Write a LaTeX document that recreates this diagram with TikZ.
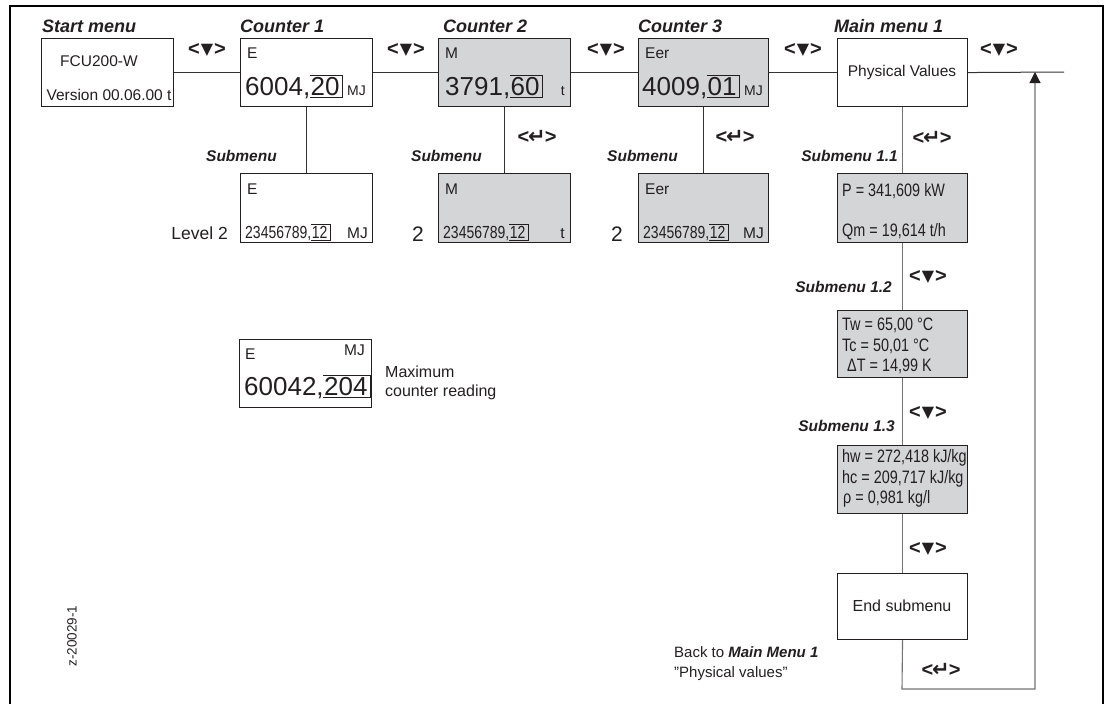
\documentclass[tikz,border=0pt]{standalone}
\usepackage{fontspec}
\setmainfont{Liberation Sans}
\newfontfamily\dejavu{DejaVu Sans}
\newfontfamily\narrowfont[FakeStretch=0.8]{Liberation Sans}
\usetikzlibrary{arrows.meta,calc}
\definecolor{lcd}{RGB}{212,213,215}
\definecolor{ink}{RGB}{35,31,32}
\newcommand\fs[1]{\fontsize{#1}{#1}\selectfont}
\newcommand\navdn{{\fs{20}\bfseries<}\kern1pt\raisebox{0.5pt}{\dejavu\fs{16}▼}\kern1pt{\fs{20}\bfseries>}}
\newcommand\navret{{\fs{20}\bfseries<}\kern-1pt\raisebox{0.5pt}{\dejavu\bfseries\fs{21}↵}\kern-1pt{\fs{20}\bfseries>}}
\newcommand\curbox[1]{\draw[curs] ($(#1.north west)+(-0.5,-1.5)$) -- ($(#1.north east)+(2.5,-1.5)$) -- ($(#1.south east)+(2.5,2)$) -- ($(#1.south west)+(-0.5,2)$);}
\begin{document}
\begin{tikzpicture}[x=1pt,y=-1pt,
  every node/.style={inner sep=0pt, text=ink},
  box/.style={draw=ink, line width=1.1pt, anchor=north west, minimum width=132pt, minimum height=68pt},
  lcdbox/.style={box, fill=lcd},
  title/.style={font=\fs{18}\bfseries\itshape, anchor=base west},
  lbl/.style={font=\fs{15.5}\bfseries\itshape, anchor=base east},
  txt/.style={font=\fs{15.5}, anchor=base west},
  big/.style={font=\fs{26}, anchor=base west},
  unit/.style={font=\fs{14}, anchor=base east},
  nar/.style={font=\narrowfont\fs{18}, anchor=base west},
  subnum/.style={font=\narrowfont\fs{17.5}, anchor=base west},
  nav/.style={anchor=center},
  curs/.style={draw=ink, line width=1.1pt},
  conn/.style={draw=black!80, line width=1pt},
  gconn/.style={draw=black!55, line width=1.1pt},
]
\path[use as bounding box] (0,0) rectangle (1109,704);
% frame
\draw[line width=1.3pt, black] (10,712) -- (10,6) -- (1103,6) -- (1103,712);

% titles
\node[title] (tStart) at (42,32) {Start menu};
\node[title] (tC1) at (240,32) {Counter 1};
\node[title] (tC2) at (443,32) {Counter 2};
\node[title] (tC3) at (638,32) {Counter 3};
\node[title] (tMM) at (834,32) {Main menu 1};

% top row boxes
\node[box] (start) at (41,38) {};
\node[box] (c1) at (240,38) {};
\node[lcdbox] (c2) at (438,38) {};
\node[lcdbox, minimum width=130pt] (c3) at (638,38) {};
\node[box, minimum width=130pt] (mm) at (837,38) {};

% start box text
\node[font=\fs{15.5}, anchor=base] (fcu) at (99,66) {FCU200-W};
\node[font=\fs{15.5}, anchor=base] (ver) at (109,100) {Version 00.06.00 t};

% counter 1
\node[txt] (c1E) at (247,58) {E};
\node[big] (c1num) at (245,95) {6004,};
\node[big] (c1dec) at (c1num.base east) {20};
\curbox{c1dec}
\node[unit] (c1u) at (366,95) {MJ};
% counter 2
\node[txt] (c2E) at (445,58) {M};
\node[big] (c2num) at (445,95) {3791,};
\node[big] (c2dec) at (c2num.base east) {60};
\curbox{c2dec}
\node[unit] (c2u) at (565,95) {t};
% counter 3
\node[txt] (c3E) at (645,58) {Eer};
\node[big] (c3num) at (642,95) {4009,};
\node[big] (c3dec) at (c3num.base east) {01};
\curbox{c3dec}
\node[unit] (c3u) at (763,95) {MJ};
% main menu
\node[font=\fs{15.5}] (pv) at (902,72) {Physical Values};

% connectors top row
\coordinate (rt) at (1064,72);
\draw[conn] (start) -- (c1);
\draw[conn] (c1) -- (c2);
\draw[conn] (c2) -- (c3);
\draw[conn] (c3) -- (mm);
\draw[conn] (mm.east) -- (rt);

% nav labels top row
\node[nav] (n1) at (207,50) {\navdn};
\node[nav] (n2) at (406,50) {\navdn};
\node[nav] (n3) at (606,50) {\navdn};
\node[nav] (n4) at (803,50) {\navdn};
\node[nav] (n5) at (999,50) {\navdn};

% counter submenus
\node[box, minimum height=69pt] (s1) at (240,173) {};
\node[lcdbox, minimum height=69pt] (s2) at (438,173) {};
\node[lcdbox, minimum width=130pt, minimum height=69pt] (s3) at (638,173) {};
\draw[conn] (c1.south) -- (s1.north);
\draw[conn] (c2.south) -- (s2.north);
\draw[conn] (c3.south) -- (s3.north);
\node[lbl] (sl1) at (277,161) {Submenu};
\node[lbl] (sl2) at (482,161) {Submenu};
\node[lbl] (sl3) at (678,161) {Submenu};
\node[nav] (r2) at (537,137) {\navret};
\node[nav] (r3) at (735,137) {\navret};

\node[txt] (s1E) at (247,194) {E};
\node[subnum] (s1num) at (245,238) {23456789,};
\node[subnum] (s1dec) at (s1num.base east) {12};
\curbox{s1dec}
\node[unit, font=\fs{15.5}] (s1u) at (368,238) {MJ};
\node[txt] (s2E) at (445,194) {M};
\node[subnum] (s2num) at (443,238) {23456789,};
\node[subnum] (s2dec) at (s2num.base east) {12};
\curbox{s2dec}
\node[unit, font=\fs{15.5}] (s2u) at (565,238) {t};
\node[txt] (s3E) at (645,194) {Eer};
\node[subnum] (s3num) at (643,238) {23456789,};
\node[subnum] (s3dec) at (s3num.base east) {12};
\curbox{s3dec}
\node[unit, font=\fs{15.5}] (s3u) at (764,238) {MJ};

\node[font=\fs{17.5}, anchor=base east] (lev) at (228,239) {Level 2};
\node[font=\fs{21}, anchor=base east] (lev2) at (424,241) {2};
\node[font=\fs{21}, anchor=base east] (lev3) at (623,241) {2};

% maximum counter reading
\node[box] (mx) at (239,339) {};
\node[txt] (mxE) at (245,359) {E};
\node[unit, font=\fs{15.5}] (mxu) at (365,355) {MJ};
\node[big] (mxnum) at (244,395) {60042,};
\node[big] (mxdec) at (mxnum.base east) {204};
\curbox{mxdec}
\node[font=\fs{16}, anchor=base west] (maxa) at (385,377) {Maximum};
\node[font=\fs{16}, anchor=base west] (maxb) at (385,396) {counter reading};

% main menu column
\node[lcdbox, minimum width=130pt, minimum height=69pt] (p1) at (837,173) {};
\node[lcdbox, minimum width=130pt, minimum height=67pt] (p2) at (837,310) {};
\node[lcdbox, minimum width=130pt, minimum height=68pt] (p3) at (837,445) {};
\node[box, minimum width=130pt, minimum height=66pt] (es) at (837,573) {};

\node[nar] (pP) at (842,196) {P = 341,609 kW};
\node[nar] (pQ) at (842,236) {Qm = 19,614 t/h};
\node[nar] (pTw) at (842,330) {Tw = 65,00 °C};
\node[nar] (pTc) at (842,351) {Tc = 50,01 °C};
\node[nar] (pdT) at (847,371) {ΔT = 14,99 K};
\node[nar] (phw) at (842,462) {hw = 272,418 kJ/kg};
\node[nar] (phc) at (842,483) {hc = 209,717 kJ/kg};
\node[nar] (prho) at (843,503) {ρ = 0,981 kg/l};
\node[font=\fs{16}] (est) at (902,606) {End submenu};

\coordinate (bl) at (902,689);
\coordinate (br) at (1035,689);
\coordinate (ar) at (1035,72);
\draw[gconn] (mm.south) -- (p1.north);
\draw[gconn] (p1.south) -- (p2.north);
\draw[gconn] (p2.south) -- (p3.north);
\draw[gconn] (p3.south) -- (es.north);
\draw[gconn, -{Triangle[length=11pt,width=11pt,color=ink]}] (es.south) -- (bl) -- (br) -- (ar);

\node[lbl] (pl1) at (898,161) {Submenu 1.1};
\node[lbl] (pl2) at (892,292) {Submenu 1.2};
\node[lbl] (pl3) at (895,431) {Submenu 1.3};
\node[nav] (r1) at (932,138) {\navret};
\node[nav] (d1) at (928,277) {\navdn};
\node[nav] (d2) at (928,413) {\navdn};
\node[nav] (d3) at (928,549) {\navdn};
\node[nav] (r4) at (941,670) {\navret};

\node[font=\fs{15}, anchor=base west] (back1) at (674,657) {Back to \textbf{\textit{Main Menu 1}}};
\node[font=\fs{15}, anchor=base west] (back2) at (674,677) {”Physical values”};

\node[font=\fs{13.5}, rotate=90] (zid) at (72,636) {z-20029-1};
\end{tikzpicture}
\end{document}
